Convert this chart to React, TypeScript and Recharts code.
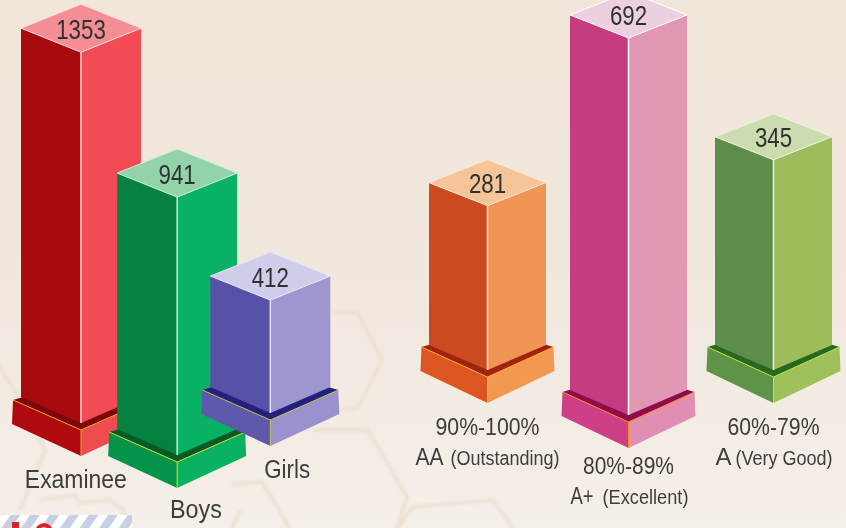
import { Bar, BarChart, XAxis, YAxis } from "recharts";

const groupNames = ["Examinee", "Boys", "Girls"];
const groupCounts = [1353, 941, 412];

const gradeRanges = ["90%-100%", "80%-89%", "60%-79%"];
const gradeNames = ["AA", "A+", "A"];
const gradeNotes = ["(Outstanding)", "(Excellent)", "(Very Good)"];
const gradeCounts = [281, 692, 345];

const groupData = groupNames.map((name, i) => ({ name, count: groupCounts[i] }));
const gradeData = gradeRanges.map((name, i) => ({ name, count: gradeCounts[i] }));

type Tone = { left: string; right: string; top: string; band: string; slabL: string; slabR: string; edge: string; seam: string };

const groupTones: Tone[] = [
  { left: "#a80b0e", right: "#f34b55", top: "#f58d95", band: "#7c0609", slabL: "#b00a10", slabR: "#ee4c50", edge: "#f0a020", seam: "#ffd9d6" },
  { left: "#058240", right: "#08b163", top: "#92d3a9", band: "#045a28", slabL: "#07934a", slabR: "#0ab163", edge: "#d8e020", seam: "#c4f0d4" },
  { left: "#5751a8", right: "#9e97cf", top: "#cfcdea", band: "#23207f", slabL: "#5f59ae", slabR: "#9a92cf", edge: "#c8c040", seam: "#e8e6f6" },
];
const gradeTones: Tone[] = [
  { left: "#cb4a1f", right: "#f09553", top: "#f5c498", band: "#a0230f", slabL: "#dd5622", slabR: "#f29850", edge: "#f6b030", seam: "#fde4cd" },
  { left: "#c53c80", right: "#df97b4", top: "#ecd0e0", band: "#920a4e", slabL: "#cf3f88", slabR: "#e08fb2", edge: "#f59020", seam: "#ffffff" },
  { left: "#5c8d4a", right: "#9fbc5b", top: "#cddcb0", band: "#256a20", slabL: "#5f9448", slabR: "#9fc05a", edge: "#c4e040", seam: "#eaf3d8" },
];

// pixel layout of the 3D blocks, relative to each chart
const groupBlocks = { foot: [423, 455, 413], lift: [0, 0, 0], dx: [-0.5, 1, -0.5], half: 60, rise: 24, slab: 68 };
const gradeBlocks = { foot: [370, 415, 370], lift: [-7, 10.5, -17], dx: [0, -2, 0], half: 58.5, rise: 23, slab: 66 };

const pts = (list: number[][]) => list.map((p) => p.join(",")).join(" ");
const FONT = "Liberation Sans, Arial, sans-serif";

function Block(props: any, tones: Tone[], blocks: typeof groupBlocks) {
  const { x, width, height, index, value } = props;
  const t = tones[index];
  const cx = x + width / 2 + blocks.dx[index];
  const foot = blocks.foot[index];
  const front = foot - height + blocks.lift[index];
  const { half: h, rise: r, slab: s } = blocks;
  const sy = foot + 7;
  const sc = sy - 30;
  const fr = r + 2;
  const label = String(value);
  return (
    <g>
      <polygon points={pts([[cx - s, sc], [cx - s - 1, sc + 24], [cx, sy + 26], [cx, sy]])} fill={t.slabL} />
      <polygon points={pts([[cx + s, sc], [cx + s + 1, sc + 24], [cx, sy + 26], [cx, sy]])} fill={t.slabR} />
      <polygon points={pts([[cx - s, sc], [cx, sy], [cx + s, sc], [cx, sc - 20]])} fill={t.band} />
      <polyline points={pts([[cx - s, sc], [cx, sy], [cx + s, sc]])} fill="none" stroke={t.edge} strokeWidth={1} />
      <line x1={cx} y1={sy} x2={cx} y2={sy + 26} stroke={t.edge} strokeWidth={1} />
      <polygon points={pts([[cx - h, front - r], [cx, front], [cx, foot], [cx - h, foot - fr]])} fill={t.left} />
      <polygon points={pts([[cx + h, front - r], [cx, front], [cx, foot], [cx + h, foot - fr]])} fill={t.right} />
      <polygon points={pts([[cx - h, front - r], [cx, front - 2 * r], [cx + h, front - r], [cx, front]])} fill={t.top} stroke={t.seam} strokeWidth={1} />
      <line x1={cx} y1={front} x2={cx} y2={foot} stroke={t.seam} strokeWidth={1.5} />
      <text x={cx} y={front - r + 10.5} textAnchor="middle" fontSize={28} fontFamily={FONT} fill="#2f3330" textLength={label.length * 12.4} lengthAdjust="spacingAndGlyphs">
        {label}
      </text>
    </g>
  );
}

const textStyle = { fontFamily: FONT, fill: "#3d3d3d" };

const groupLabelPos = [
  { dx: -5.5, y: 488, w: 102 },
  { dx: 20, y: 518, w: 52 },
  { dx: 16.5, y: 478, w: 46 },
];

function GroupTick(props: any) {
  const { x, index, payload } = props;
  const p = groupLabelPos[index];
  return (
    <text x={x + p.dx} y={p.y} textAnchor="middle" fontSize={25} textLength={p.w} lengthAdjust="spacingAndGlyphs" style={textStyle}>
      {payload.value}
    </text>
  );
}

const gradeLabelPos = [
  { y: 435, w: 104, nameX: -72, nameW: 28, noteX: -37, noteW: 109 },
  { y: 474, w: 91, nameX: -58, nameW: 23, noteX: -26, noteW: 86 },
  { y: 435, w: 92, nameX: -58, nameW: 16, noteX: -38, noteW: 97 },
];

function GradeTick(props: any) {
  const { x, index, payload } = props;
  const p = gradeLabelPos[index];
  const cx = x + gradeBlocks.dx[index];
  return (
    <g>
      <text x={cx} y={p.y} textAnchor="middle" fontSize={24} textLength={p.w} lengthAdjust="spacingAndGlyphs" style={textStyle}>
        {payload.value}
      </text>
      <text x={cx + p.nameX} y={p.y + 30} fontSize={24} textLength={p.nameW} lengthAdjust="spacingAndGlyphs" style={textStyle}>
        {gradeNames[index]}
      </text>
      <text x={cx + p.noteX} y={p.y + 30} fontSize={20} textLength={p.noteW} lengthAdjust="spacingAndGlyphs" style={textStyle}>
        {gradeNotes[index]}
      </text>
    </g>
  );
}

const hexes = [
  "M-10,350 L20,400 L45,450 L20,510",
  "M333,313 L358,313 L382,360 L358,408 L340,410",
  "M313,430 L368,430 L407,497 L397,528",
  "M397,528 L413,507 L493,500 L513,528",
  "M40,500 L75,495 L80,503 L110,500 L123,510 L130,528",
  "M232,484 L262,482 L290,528",
  "M240,510 L232,528",
];

function Backdrop() {
  return (
    <svg width={846} height={528} style={{ position: "absolute", left: 0, top: 0 }}>
      <defs>
        <linearGradient id="paper" x1="0" y1="0" x2="0" y2="1">
          <stop offset="0%" stopColor="#f0e6da" />
          <stop offset="50%" stopColor="#f1e8dd" />
          <stop offset="100%" stopColor="#f4efe8" />
        </linearGradient>
        <pattern id="stripes" width="16" height="16" patternUnits="userSpaceOnUse" patternTransform="rotate(35)">
          <rect width="16" height="16" fill="#ffffff" />
          <rect width="8" height="16" fill="#c8cfe3" />
        </pattern>
        <filter id="soft">
          <feGaussianBlur stdDeviation="1" />
        </filter>
      </defs>
      <rect width={846} height={528} fill="url(#paper)" />
      <g filter="url(#soft)">
        {hexes.map((d) => (
          <path key={d} d={d} fill="none" stroke="#eaddcd" strokeWidth={4} opacity={0.65} />
        ))}
      </g>
      <rect x={0} y={515} width={132} height={13} fill="url(#stripes)" />
      <circle cx={44} cy={532} r={7} fill="none" stroke="#d8232a" strokeWidth={4} />
      <rect x={12} y={522} width={7} height={6} fill="#d8232a" />
    </svg>
  );
}

export default function App() {
  return (
    <div style={{ position: "absolute", left: 0, top: 0, width: 846, height: 528, overflow: "hidden" }}>
      <Backdrop />
      <div style={{ position: "absolute", left: 0, top: 0 }}>
        <BarChart width={400} height={528} data={groupData} margin={{ left: 34, right: 82, top: 0, bottom: 0 }} barCategoryGap={0}>
          <XAxis dataKey="name" height={1} axisLine={false} tickLine={false} interval={0} tick={<GroupTick />} />
          <YAxis hide domain={[0, 1923]} />
          <Bar dataKey="count" isAnimationActive={false} shape={(p: any) => Block(p, groupTones, groupBlocks)} />
        </BarChart>
      </div>
      <div style={{ position: "absolute", left: 400, top: 0 }}>
        <BarChart width={446} height={528} data={gradeData} margin={{ left: 16, right: 1, top: 0, bottom: 0 }} barCategoryGap={0}>
          <XAxis dataKey="name" height={1} axisLine={false} tickLine={false} interval={0} tick={<GradeTick />} />
          <YAxis hide domain={[0, 941]} />
          <Bar dataKey="count" isAnimationActive={false} shape={(p: any) => Block(p, gradeTones, gradeBlocks)} />
        </BarChart>
      </div>
    </div>
  );
}
